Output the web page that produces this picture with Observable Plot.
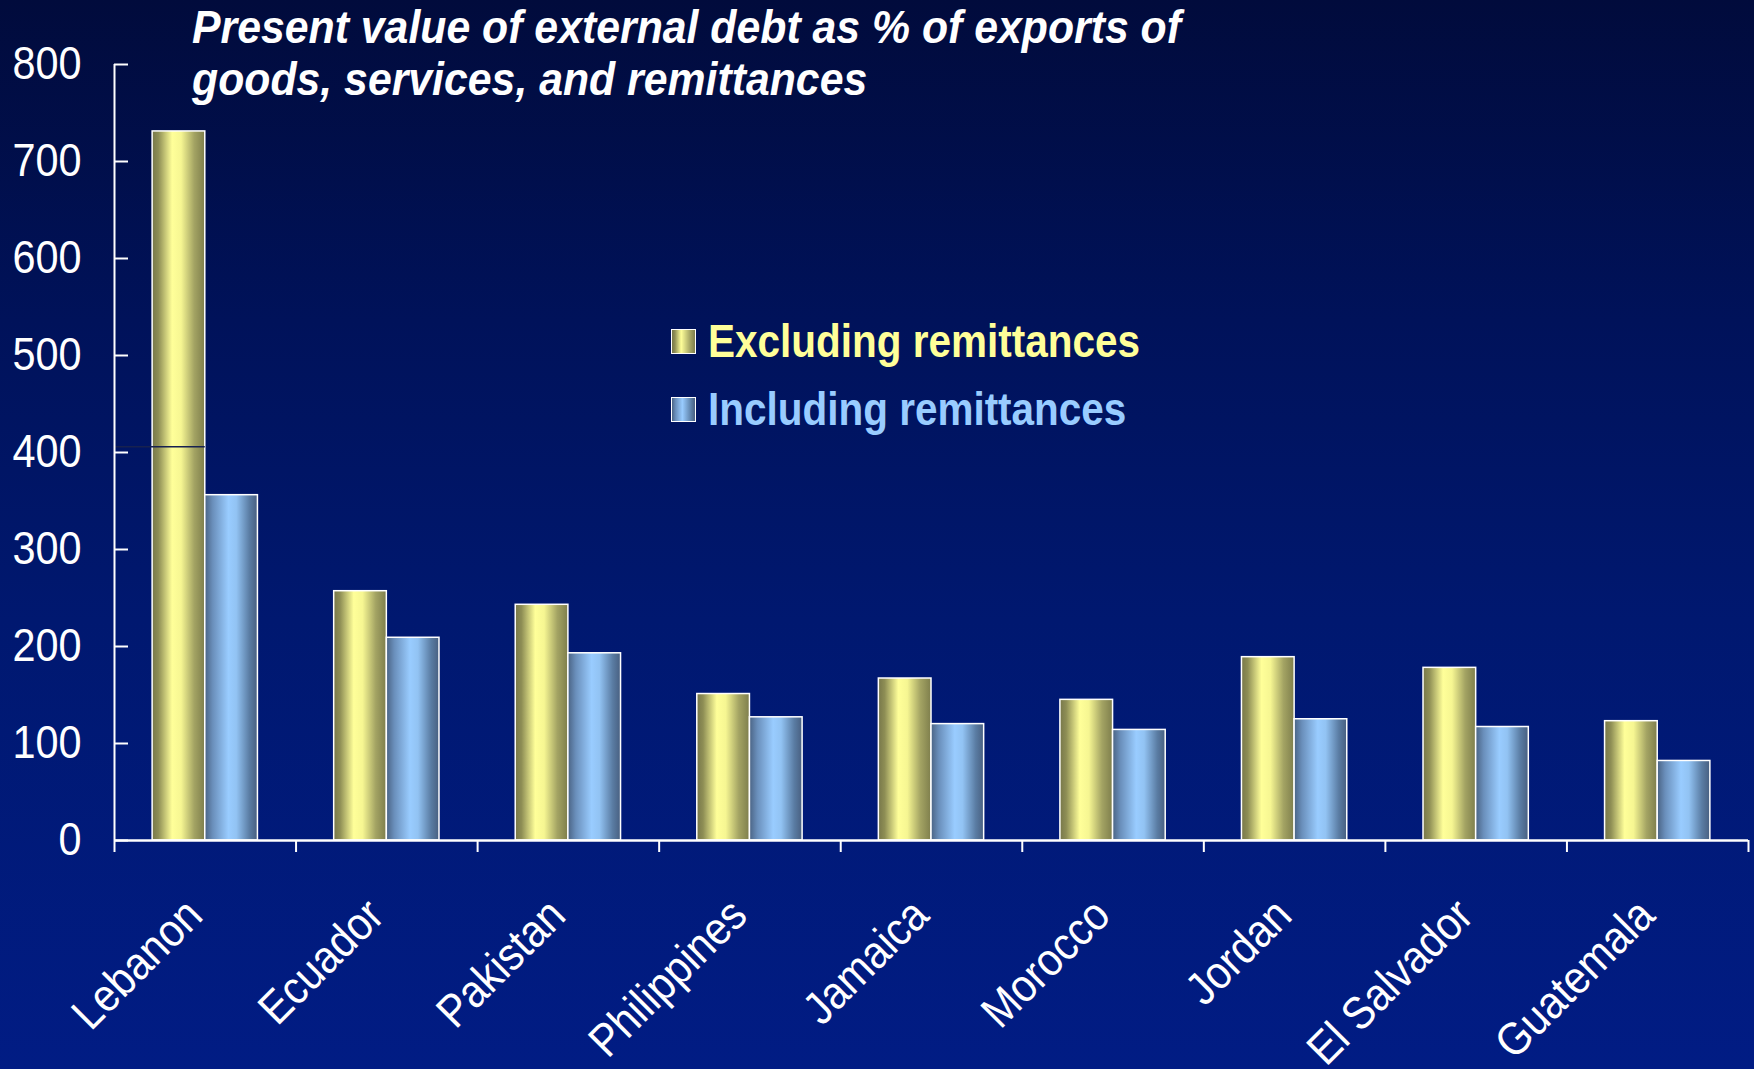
<!DOCTYPE html>
<html>
<head>
<meta charset="utf-8">
<script src="https://cdn.jsdelivr.net/npm/d3@7"></script>
<script src="https://cdn.jsdelivr.net/npm/@observablehq/plot@0.6"></script>
<style>
  html, body { margin: 0; padding: 0; }
  body {
    width: 1754px; height: 1069px; overflow: hidden;
    background: linear-gradient(to bottom, #010b3c 0%, #00125a 30%, #001870 58%, #011c84 100%);
    font-family: "Liberation Sans", Arial, sans-serif;
  }
  #wrap { position: relative; width: 1754px; height: 1069px; }
  #chart { position: absolute; left: 0; top: 0; }
  #title {
    position: absolute; left: 192px; top: 1px;
    color: white; font-weight: bold; font-style: italic;
    font-size: 46px; line-height: 52px; white-space: nowrap;
    transform: scaleX(0.93); transform-origin: left top;
  }
  .leg { position: absolute; left: 671px; display: flex; align-items: center;
         font-weight: bold; font-size: 46px; white-space: nowrap; }
  .leg span { display: inline-block; transform: scaleX(0.88); transform-origin: left center; }
  .sw { width: 23px; height: 23px; border: 1.5px solid white; margin-right: 12px; }
</style>
</head>
<body>
<div id="wrap">
  <div id="chart"></div>
  <div id="title"></div>
  <div id="legend"></div>
</div>
<script>
const countries = ["Lebanon", "Ecuador", "Pakistan", "Philippines", "Jamaica", "Morocco", "Jordan", "El Salvador", "Guatemala"];
const excludingRemittances = [731, 257, 243, 151, 167, 145, 189, 178, 123];
const includingRemittances = [356, 209, 193, 127, 120, 114, 125, 117, 82];
const seriesNames = ["Excluding remittances", "Including remittances"];
const yTicks = [0, 100, 200, 300, 400, 500, 600, 700, 800];
const titleLines = ["Present value of external debt as % of exports of", "goods, services, and remittances"];
const lebanonSeamValue = 406;

const data = countries.map((c, i) => ({i, country: c, excl: excludingRemittances[i], incl: includingRemittances[i]}));
const BW = 0.29;
const font = '"Liberation Sans", Arial, sans-serif';

const plot = Plot.plot({
  width: 1754, height: 1069,
  marginLeft: 114, marginRight: 6, marginTop: 64, marginBottom: 229,
  x: {type: "linear", domain: [0, countries.length], axis: null},
  y: {domain: [0, 800], axis: null},
  style: {background: "transparent", color: "white", fontFamily: font, overflow: "visible"},
  marks: [
    Plot.rectY(data, {x1: d => d.i + 0.5 - BW, x2: d => d.i + 0.5, y: "excl", fill: "url(#gradYellow)", stroke: "white", strokeWidth: 1.5}),
    Plot.rectY(data, {x1: d => d.i + 0.5, x2: d => d.i + 0.5 + BW, y: "incl", fill: "url(#gradBlue)", stroke: "white", strokeWidth: 1.5}),
    Plot.ruleY([lebanonSeamValue], {x1: 0, x2: 0.5, stroke: "#17214f", strokeWidth: 1.5}),
    Plot.ruleX([0], {y1: 0, y2: 800, stroke: "white", strokeWidth: 2}),
    Plot.ruleY([0], {stroke: "white", strokeWidth: 2.5}),
    Plot.axisY({ticks: yTicks, tickSize: -14, tickFormat: () => "", strokeWidth: 2}),
    Plot.axisY({ticks: yTicks, tickSize: 0, tickPadding: 33, fontSize: 46, fill: "white"}),
    Plot.axisX({ticks: d3.range(0, countries.length + 1), tickSize: 12, tickFormat: () => "", strokeWidth: 2}),
    Plot.text(data, {x: d => d.i + 0.5, y: 0, text: "country", rotate: -45, textAnchor: "end", lineAnchor: "middle", dx: -11, dy: 67, fontSize: 46, fill: "white"})
  ]
});

const svg = d3.select(plot);
const defs = svg.insert("defs", ":first-child");
function grad(id, stops) {
  const g = defs.append("linearGradient").attr("id", id).attr("x1", 0).attr("x2", 1).attr("y1", 0).attr("y2", 0);
  stops.forEach(([o, c]) => g.append("stop").attr("offset", o).attr("stop-color", c));
}
grad("gradYellow", [[0, "#77774a"], [0.12, "#8e8e55"], [0.38, "#ffff99"], [0.55, "#f6f692"], [0.8, "#a3a363"], [1, "#7e7e4c"]]);
grad("gradBlue", [[0, "#4a6384"], [0.15, "#6a8fbb"], [0.45, "#99ccff"], [0.6, "#92c3f3"], [0.85, "#5a7ca3"], [1, "#485f80"]]);

document.getElementById("chart").appendChild(plot);

// condense text horizontally (the original uses a narrow face)
function squeeze(sel, k) {
  sel.each(function() {
    if (!this.textContent) return;
    const len = this.getComputedTextLength();
    if (len > 0) {
      this.setAttribute("textLength", (len * k).toFixed(1));
      this.setAttribute("lengthAdjust", "spacingAndGlyphs");
    }
  });
}
squeeze(svg.selectAll('g[aria-label="y-axis tick label"] text'), 0.9);
squeeze(svg.selectAll('g[aria-label="text"] text'), 0.9);

document.getElementById("title").innerHTML = titleLines.join("<br>");

const legendColors = ["#ffff99", "#99ccff"];
const legendTops = [314, 382];
const leg = document.getElementById("legend");
seriesNames.forEach((name, k) => {
  const row = document.createElement("div");
  row.className = "leg";
  row.style.top = legendTops[k] + "px";
  row.style.color = legendColors[k];
  const sw = document.createElement("div");
  sw.className = "sw";
  sw.style.background = k === 0
    ? "linear-gradient(to right, #77774a, #8e8e55 12%, #ffff99 40%, #a3a363 80%, #7e7e4c)"
    : "linear-gradient(to right, #4a6384, #6a8fbb 15%, #99ccff 45%, #5a7ca3 85%, #485f80)";
  const tx = document.createElement("span");
  tx.textContent = name;
  row.appendChild(sw); row.appendChild(tx);
  leg.appendChild(row);
});
</script>
</body>
</html>
